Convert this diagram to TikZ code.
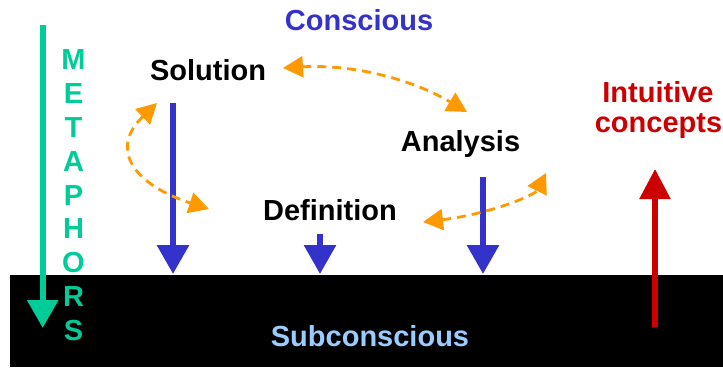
\documentclass[tikz,border=0pt]{standalone}
\usepackage{fontspec}
\setmainfont{Liberation Sans}
\usetikzlibrary{arrows.meta}
\definecolor{cblue}{HTML}{3333CC}
\definecolor{cgreen}{HTML}{00CC99}
\definecolor{corange}{HTML}{FF9900}
\definecolor{cred}{HTML}{CC0000}
\definecolor{clight}{HTML}{99CCFF}
\tikzset{
  lbl/.style={anchor=base,inner sep=0pt,font=\fontsize{29}{30}\selectfont\bfseries},
  bluearrow/.style={draw=cblue,line width=6pt,-{Triangle[width=31pt,length=29pt]},fill=cblue},
  greenarrow/.style={draw=cgreen,line width=6pt,-{Triangle[width=30pt,length=28pt]},fill=cgreen},
  redarrow/.style={draw=cred,line width=5.5pt,-{Triangle[width=30pt,length=30pt]},fill=cred},
  orangearrow/.style={draw=corange,line width=2.8pt,dash pattern=on 9pt off 6pt,{Triangle[width=21pt,length=20pt]}-{Triangle[width=21pt,length=20pt]}},
  letter/.style={lbl,text=cgreen}
}
\begin{document}
\begin{tikzpicture}[x=1pt,y=-1pt]
\useasboundingbox (0,0) rectangle (723,367);
\fill[black] (10,275) rectangle (723,367);
% labels
\node[lbl,text=cblue] (conscious) at (359,30) {Conscious};
\node[lbl] (solution) at (208,80.5) {Solution};
\node[lbl] (analysis) at (460.5,151) {Analysis};
\node[lbl] (definition) at (330,220) {Definition};
\node[lbl,text=clight] (subconscious) at (370,346) {Subconscious};
\node[lbl,text=cred] (intuitive) at (658,102) {Intuitive};
\node[lbl,text=cred] (concepts) at (658.5,132) {concepts};
% metaphors letters
\foreach \l [count=\i from 0] in {M,E,T,A,P,H,O,R,S}{
  \node[letter] (m\i) at (73.5,{69.8+33.8*\i}) {\l};
}
% coordinates
\coordinate (g1) at (42.7,25);
\coordinate (g2) at (42.7,328);
\coordinate (s1) at (173,103);
\coordinate (s2) at (173,274);
\coordinate (d1) at (320,234);
\coordinate (d2) at (320,274);
\coordinate (a1) at (483,177);
\coordinate (a2) at (483,274);
\coordinate (r1) at (655,327);
\coordinate (r2) at (655,169);
\coordinate (o1a) at (283,68);
\coordinate (o1b) at (467,112);
\coordinate (o2a) at (157,103);
\coordinate (o2b) at (209,209);
\coordinate (o3a) at (423,222);
\coordinate (o3b) at (546,173);
% arrows
\draw[greenarrow] (g1) -- (g2);
\draw[bluearrow] (s1) -- (s2);
\draw[bluearrow] (d1) -- (d2);
\draw[bluearrow] (a1) -- (a2);
\draw[redarrow] (r1) -- (r2);
\draw[orangearrow] (o1a) .. controls (350,64) and (410,78) .. (o1b);
\draw[orangearrow] (o2a) .. controls (108,150) and (135,185) .. (o2b);
\draw[orangearrow] (o3a) .. controls (490,214) and (535,195) .. (o3b);
\end{tikzpicture}
\end{document}
